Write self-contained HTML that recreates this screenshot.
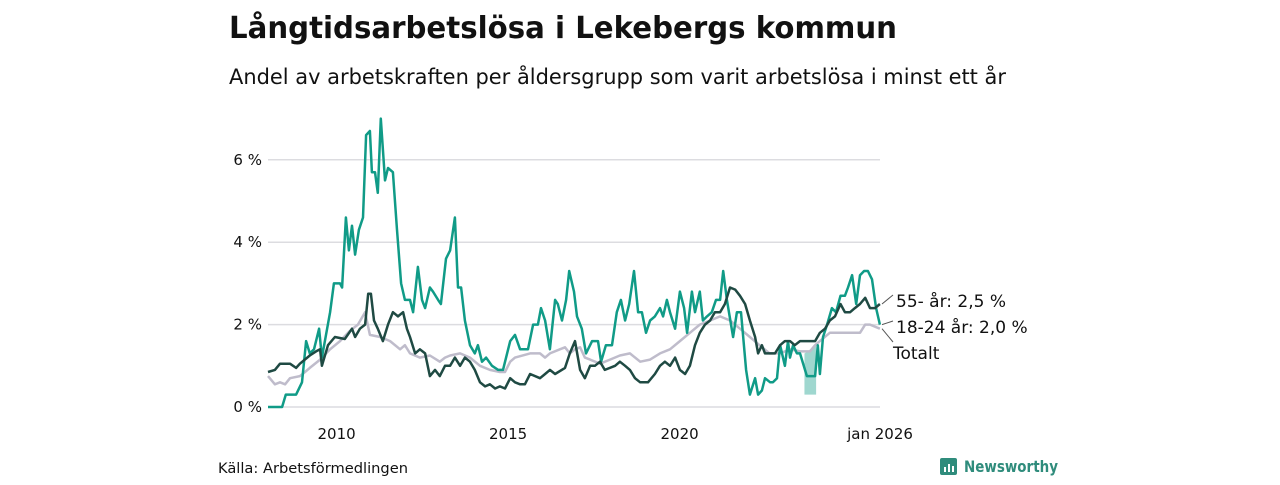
<!DOCTYPE html>
<html><head><meta charset="utf-8">
<style>
body{margin:0;background:#fff;width:1280px;height:480px;overflow:hidden;font-family:"Liberation Sans","DejaVu Sans",sans-serif;}
svg text{font-family:"DejaVu Sans","Liberation Sans",sans-serif;}
</style></head>
<body>
<svg id="chart" width="1280" height="480" xmlns="http://www.w3.org/2000/svg">
<text x="229" y="38" font-size="30" font-weight="bold" fill="#111" textLength="668" lengthAdjust="spacingAndGlyphs">Långtidsarbetslösa i Lekebergs kommun</text>
<text x="229" y="84" font-size="21" fill="#111" textLength="777" lengthAdjust="spacingAndGlyphs">Andel av arbetskraften per åldersgrupp som varit arbetslösa i minst ett år</text>
<g id="grid"></g><g id="yticks"></g><g id="xticks"></g><g id="series"></g><g id="labels"></g>
<text x="218" y="473" font-size="14" fill="#111" textLength="190" lengthAdjust="spacingAndGlyphs">Källa: Arbetsförmedlingen</text>
<g>
<rect x="940" y="458" width="17" height="17" rx="2" fill="#2f8c7c"/>
<rect x="944" y="467" width="2" height="5" fill="#fff"/><rect x="948" y="464" width="2" height="8" fill="#fff"/><rect x="952" y="466" width="2" height="6" fill="#fff"/>
<text x="964" y="472" font-size="16" font-weight="bold" fill="#2f8c7c" textLength="94" lengthAdjust="spacingAndGlyphs">Newsworthy</text>
</g>
</svg>
<script>
const yTicks=[0,2,4,6];
const yTickLabels=["0 %","2 %","4 %","6 %"];
const xTicks=[2010,2015,2020,2026];
const xTickLabels=["2010","2015","2020","jan 2026"];
const youthDates=[2008.00,2008.41,2008.52,2008.82,2008.99,2009.11,2009.22,2009.34,2009.49,2009.57,2009.81,2009.92,2010.10,2010.16,2010.27,2010.36,2010.45,2010.54,2010.65,2010.77,2010.86,2010.97,2011.03,2011.12,2011.20,2011.29,2011.41,2011.50,2011.64,2011.76,2011.88,2011.99,2012.14,2012.23,2012.37,2012.49,2012.58,2012.72,2012.81,2012.96,2013.04,2013.19,2013.31,2013.45,2013.54,2013.63,2013.74,2013.89,2014.03,2014.12,2014.24,2014.36,2014.53,2014.71,2014.85,2015.06,2015.20,2015.35,2015.58,2015.73,2015.87,2015.96,2016.08,2016.22,2016.37,2016.45,2016.57,2016.69,2016.78,2016.92,2017.01,2017.15,2017.27,2017.45,2017.62,2017.71,2017.85,2018.03,2018.17,2018.29,2018.41,2018.53,2018.67,2018.79,2018.90,2019.02,2019.14,2019.28,2019.43,2019.52,2019.63,2019.72,2019.87,2020.01,2020.13,2020.22,2020.36,2020.45,2020.59,2020.68,2020.80,2020.94,2021.06,2021.18,2021.27,2021.38,2021.56,2021.67,2021.79,2021.94,2022.05,2022.20,2022.29,2022.40,2022.49,2022.64,2022.72,2022.84,2022.93,2023.07,2023.16,2023.22,2023.31,2023.42,2023.51,2023.71,2023.95,2024.03,2024.09,2024.18,2024.30,2024.44,2024.56,2024.69,2024.82,2024.91,2025.03,2025.15,2025.26,2025.38,2025.49,2025.61,2025.73,2025.84];
const youthValues=[0,0,0.3,0.3,0.6,1.6,1.3,1.4,1.9,1.2,2.3,3.0,3.0,2.9,4.6,3.8,4.4,3.7,4.3,4.6,6.6,6.7,5.7,5.7,5.2,7.0,5.5,5.8,5.7,4.3,3.0,2.6,2.6,2.3,3.4,2.6,2.4,2.9,2.8,2.6,2.5,3.6,3.8,4.6,2.9,2.9,2.1,1.5,1.3,1.5,1.1,1.2,1.0,0.9,0.9,1.6,1.75,1.4,1.4,2.0,2.0,2.4,2.1,1.4,2.6,2.5,2.1,2.6,3.3,2.8,2.2,1.9,1.3,1.6,1.6,1.1,1.5,1.5,2.3,2.6,2.1,2.5,3.3,2.3,2.3,1.8,2.1,2.2,2.4,2.2,2.6,2.3,1.9,2.8,2.4,1.8,2.8,2.3,2.8,2.1,2.2,2.3,2.6,2.6,3.3,2.6,1.7,2.3,2.3,0.9,0.3,0.7,0.3,0.4,0.7,0.6,0.6,0.7,1.5,1.0,1.6,1.2,1.5,1.3,1.3,0.75,0.75,1.5,0.8,1.7,2.0,2.4,2.3,2.7,2.7,2.9,3.2,2.5,3.2,3.3,3.3,3.1,2.4,2.0];
const olderDates=[2008.00,2008.20,2008.35,2008.64,2008.82,2008.93,2009.22,2009.40,2009.52,2009.57,2009.75,2009.95,2010.24,2010.45,2010.54,2010.68,2010.83,2010.92,2011.00,2011.09,2011.20,2011.35,2011.50,2011.64,2011.79,2011.94,2012.05,2012.14,2012.29,2012.43,2012.58,2012.72,2012.87,2013.01,2013.16,2013.31,2013.45,2013.60,2013.74,2013.89,2014.03,2014.18,2014.33,2014.47,2014.62,2014.76,2014.91,2015.06,2015.20,2015.35,2015.49,2015.64,2015.93,2016.08,2016.22,2016.37,2016.66,2016.80,2016.95,2017.10,2017.24,2017.39,2017.53,2017.68,2017.82,2018.12,2018.26,2018.41,2018.55,2018.70,2018.85,2019.08,2019.28,2019.43,2019.57,2019.72,2019.87,2020.01,2020.16,2020.30,2020.45,2020.59,2020.74,2020.89,2021.03,2021.18,2021.32,2021.47,2021.62,2021.76,2021.91,2022.05,2022.20,2022.29,2022.40,2022.49,2022.78,2022.93,2023.07,2023.22,2023.36,2023.51,2023.66,2023.95,2024.09,2024.24,2024.38,2024.53,2024.69,2024.82,2024.97,2025.11,2025.26,2025.41,2025.55,2025.70,2025.84];
const olderValues=[0.85,0.9,1.05,1.05,0.95,1.05,1.25,1.35,1.4,1.0,1.5,1.7,1.65,1.9,1.7,1.9,2.0,2.75,2.75,2.1,1.9,1.6,2.0,2.3,2.2,2.3,1.9,1.7,1.3,1.4,1.3,0.75,0.9,0.75,1.0,1.0,1.2,1.0,1.2,1.1,0.9,0.6,0.5,0.55,0.45,0.5,0.45,0.7,0.6,0.55,0.55,0.8,0.7,0.8,0.9,0.8,0.95,1.3,1.6,0.9,0.7,1.0,1.0,1.1,0.9,1.0,1.1,1.0,0.9,0.7,0.6,0.6,0.8,1.0,1.1,1.0,1.2,0.9,0.8,1.0,1.5,1.8,2.0,2.1,2.3,2.3,2.5,2.9,2.85,2.7,2.5,2.1,1.7,1.3,1.5,1.3,1.3,1.5,1.6,1.6,1.5,1.6,1.6,1.6,1.8,1.9,2.1,2.2,2.5,2.3,2.3,2.4,2.5,2.65,2.4,2.4,2.5];
const totalDates=[2008.00,2008.20,2008.35,2008.50,2008.64,2008.93,2009.08,2009.22,2009.52,2009.81,2010.10,2010.39,2010.62,2010.83,2010.97,2011.27,2011.56,2011.85,2011.99,2012.14,2012.43,2012.72,2013.01,2013.16,2013.31,2013.60,2013.89,2014.18,2014.47,2014.76,2014.91,2015.06,2015.20,2015.64,2015.93,2016.08,2016.22,2016.51,2016.66,2016.80,2016.95,2017.10,2017.24,2017.39,2017.68,2017.97,2018.26,2018.55,2018.85,2019.14,2019.43,2019.72,2020.01,2020.30,2020.59,2020.89,2021.18,2021.47,2021.76,2022.05,2022.33,2022.62,2022.93,2023.22,2023.51,2023.80,2023.95,2024.09,2024.38,2024.69,2025.26,2025.41,2025.55,2025.84];
const totalValues=[0.75,0.55,0.6,0.55,0.7,0.75,0.85,0.95,1.15,1.4,1.6,1.85,2.0,2.3,1.75,1.7,1.6,1.4,1.5,1.3,1.2,1.25,1.1,1.2,1.25,1.3,1.2,1.0,0.9,0.85,0.85,1.1,1.2,1.3,1.3,1.2,1.3,1.4,1.45,1.3,1.4,1.45,1.2,1.15,1.05,1.15,1.25,1.3,1.1,1.15,1.3,1.4,1.6,1.8,2.0,2.1,2.2,2.1,1.9,1.7,1.5,1.3,1.3,1.4,1.35,1.35,1.5,1.6,1.8,1.8,1.8,2.0,2.0,1.9];
const bandDates=[2023.64,2023.98];
const bandLow=[0.3,0.3];
const bandHigh=[1.3,1.5];
const seriesNames=["55- år: 2,5 %","18-24 år: 2,0 %","Totalt"];

const NS="http://www.w3.org/2000/svg";
const X0=268,PX_PER_YEAR=34.3,Y0=407,PX_PER_UNIT=41.2;
function xs(t){return X0+(t-2008)*PX_PER_YEAR;}
function ys(v){return Y0-v*PX_PER_UNIT;}
function mk(tag,parent){const e=document.createElementNS(NS,tag);document.getElementById(parent).appendChild(e);return e;}

yTicks.forEach((v,i)=>{
  const l=mk('line','grid');
  
  
  l.setAttribute('x1',268);l.setAttribute('x2',880);l.setAttribute('y1',ys(v));l.setAttribute('y2',ys(v));
  l.setAttribute('stroke','#dcdce0');l.setAttribute('stroke-width','1.5');
  const t=mk('text','yticks');
  
  
  t.setAttribute('x',262);t.setAttribute('y',ys(v)+5);t.setAttribute('text-anchor','end');
  t.setAttribute('font-size','15');t.setAttribute('fill','#111');t.textContent=yTickLabels[i];
});
xTicks.forEach((v,i)=>{
  const t=mk('text','xticks');
  
  
  let x=xs(v);if(i===xTicks.length-1)x=880;
  t.setAttribute('x',x);t.setAttribute('y',439);t.setAttribute('text-anchor','middle');
  t.setAttribute('font-size','15');t.setAttribute('fill','#111');t.textContent=xTickLabels[i];
});
{
  let pts=bandDates.map((d,i)=>xs(d)+','+ys(bandHigh[i]));
  for(let i=bandDates.length-1;i>=0;i--)pts.push(xs(bandDates[i])+','+ys(bandLow[i]));
  const p=mk('polygon','series');
  
  
  p.setAttribute('points',pts.join(' '));p.setAttribute('fill','#109b87');p.setAttribute('fill-opacity','0.4');
}
function line(d,v,color,name){
  const p=mk('polyline','series');
  
  
  p.setAttribute('points',d.map((t,i)=>xs(t).toFixed(1)+','+ys(v[i]).toFixed(1)).join(' '));
  p.setAttribute('fill','none');p.setAttribute('stroke',color);p.setAttribute('stroke-width','2.5');p.setAttribute('stroke-linejoin','round');
}
line(totalDates,totalValues,'#bfbccb','line-totalt');
line(youthDates,youthValues,'#109b87','line-18-24');
line(olderDates,olderValues,'#1f4a43','line-55-plus');
const ends=[[olderValues[olderValues.length-1],300],[youthValues[youthValues.length-1],326],[totalValues[totalValues.length-1],352]];
ends.forEach((e,i)=>{
  const l=mk('line','labels');
  
  
  l.setAttribute('x1',882);l.setAttribute('y1',ys(e[0]));l.setAttribute('x2',893);l.setAttribute('y2',i===2?e[1]-10:e[1]-5);
  l.setAttribute('stroke','#555');l.setAttribute('stroke-width','1');
  const t=mk('text','labels');
  
  
  t.setAttribute('x',i===2?893:896);t.setAttribute('y',e[1]+7);t.setAttribute('font-size','17');t.setAttribute('fill','#111');
  t.textContent=seriesNames[i];
});
</script>
</body></html>
